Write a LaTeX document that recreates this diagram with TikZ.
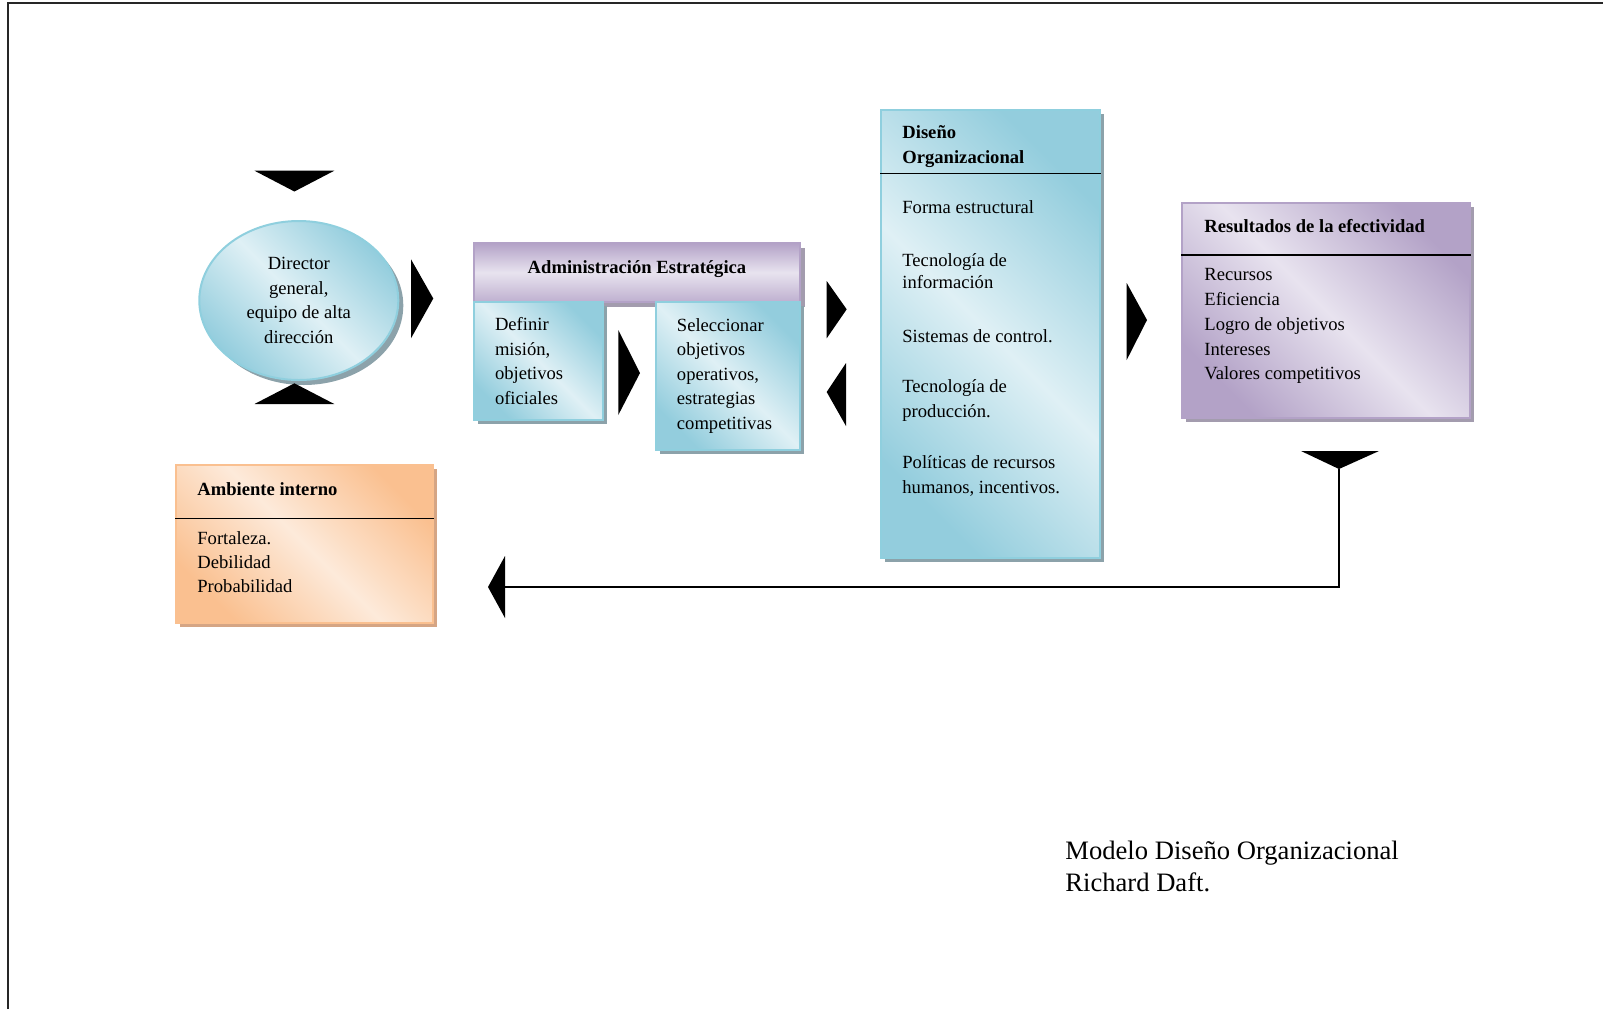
\documentclass[tikz,border=0pt]{standalone}
\usepackage{fontspec}
\setmainfont{Liberation Serif}
\usetikzlibrary{shadows}
\usetikzlibrary{positioning}
\usetikzlibrary{shapes}

\definecolor{bluedark}{HTML}{93CDDD}
\definecolor{bluelight}{HTML}{DFF0F5}
\definecolor{blueline}{HTML}{8FCFDE}
\definecolor{blueshadow}{HTML}{8CA2AA}
\definecolor{purpdark}{HTML}{B3A2C7}
\definecolor{purplight}{HTML}{E8E3EF}
\definecolor{purpshadow}{HTML}{A39CAE}
\definecolor{orangedark}{HTML}{FAC090}
\definecolor{orangelight}{HTML}{FDEADA}
\definecolor{orangeshadow}{HTML}{D5A584}

\tikzstyle{bluebox}=[rectangle, draw=blueline, line width=1pt, left color=bluedark, right color=bluedark, middle color=bluelight, shading angle=-45, drop shadow={shadow xshift=2pt, shadow yshift=-2pt, fill=blueshadow, opacity=1}]
\tikzstyle{purpbox}=[rectangle, draw=purpdark, line width=1pt, left color=purpdark, right color=purpdark, middle color=purplight, shading angle=-45, drop shadow={shadow xshift=2pt, shadow yshift=-2pt, fill=purpshadow, opacity=1}]
\tikzstyle{orangebox}=[rectangle, draw=orangedark, line width=1pt, left color=orangedark, right color=orangedark, middle color=orangelight, shading angle=-45, drop shadow={shadow xshift=2pt, shadow yshift=-2pt, fill=orangeshadow, opacity=1}]
\tikzstyle{boxtxt}=[font=\fontsize{9.3}{12.25}\selectfont, align=left, inner ysep=0pt]
\tikzstyle{itemtxt}=[font=\fontsize{9.3}{12.25}\selectfont, anchor=base west, inner sep=0pt]
\tikzstyle{titletxt}=[font=\fontsize{9.3}{12.25}\selectfont\bfseries, anchor=base west, inner sep=0pt]
\tikzstyle{sepline}=[draw, line width=0.8pt, black]
\tikzstyle{arrowtip}=[fill=black]

\begin{document}
\begin{tikzpicture}[x=0.5pt, y=-0.5pt]
  \useasboundingbox (0,0) rectangle (1603,1009);
  \draw[line width=1.2pt, black!85] (8,1009) -- (8,3) -- (1603,3);

  % director
  \node[ellipse, draw=blueline, line width=1pt, left color=bluedark, right color=bluedark, middle color=bluelight, shading angle=-45, drop shadow={shadow xshift=2.5pt, shadow yshift=-2.5pt, fill=blueshadow, opacity=1}, minimum width=99.5pt, minimum height=79.5pt, inner sep=0pt, align=center, font=\fontsize{9.3}{12.25}\selectfont] (director) at (298.8,300.5) {Director\\general,\\equipo de alta\\dirección};
  \fill[arrowtip] (254.5,170.7) -- (334.3,170.7) -- (294.4,191.5) -- cycle;
  \fill[arrowtip] (254.5,404) -- (334.3,404) -- (294.4,383.3) -- cycle;
  \fill[arrowtip] (411,259.3) -- (433.3,298.5) -- (411,338.3) -- cycle;

  % administracion estrategica
  \node[rectangle, draw=purpdark, line width=1pt, top color=purpdark, bottom color=purpdark!85, middle color=purplight, drop shadow={shadow xshift=2.5pt, shadow yshift=-2.5pt, fill=purpshadow, opacity=1}, minimum width=163pt, minimum height=29.5pt] (admin) at (637,272.5) {};
  \node[titletxt, anchor=base] (admintitle) at (637,273) {Administración Estratégica};
  \node[bluebox, boxtxt, minimum width=64.5pt, minimum height=59pt, text width=43.5pt, inner xsep=10.5pt] (definir) at (538.5,361) {Definir\\misión,\\objetivos\\oficiales};
  \node[bluebox, boxtxt, minimum width=72.25pt, minimum height=74pt, text width=51.25pt, inner xsep=10.5pt] (selecc) at (728.2,376) {Seleccionar\\objetivos\\operativos,\\estrategias\\competitivas};
  \fill[arrowtip] (618.3,330) -- (640,373) -- (618.3,415) -- cycle;
  \fill[arrowtip] (826.7,281) -- (846.7,309.3) -- (826.7,338.3) -- cycle;
  \fill[arrowtip] (846,363) -- (826.7,392) -- (846,426) -- cycle;

  % diseno organizacional
  \node[bluebox, minimum width=109.5pt, minimum height=224pt] (diseno) at (990.5,334) {};
  \draw[sepline] (diseno.west |- 0,173.3) -- (diseno.east |- 0,173.3);
  \node[titletxt] (disenotitle) at (902,138.5) {Diseño};
  \node[titletxt] (disenotitle2) at (902,163.5) {Organizacional};
  \foreach \y/\txt in {213.5/Forma estructural, 266/Tecnología de, 288.5/información, 342.5/Sistemas de control., 392.5/Tecnología de, 417/producción., 468.5/Políticas de recursos, {493.5/humanos, incentivos.}}
    \node[itemtxt] (dis-\y) at (902,\y) {\txt};
  \fill[arrowtip] (1126.7,283) -- (1147,320) -- (1126.7,360) -- cycle;

  % resultados
  \node[purpbox, minimum width=144pt, minimum height=107.5pt] (result) at (1326,310.5) {};
  \draw[sepline] (result.west |- 0,255) -- (result.east |- 0,255);
  \node[titletxt] (resulttitle) at (1204,232) {Resultados de la efectividad};
  \foreach \y/\txt in {280.5/Recursos, 305.5/Eficiencia, 330.5/Logro de objetivos, 355/Intereses, 379/Valores competitivos}
    \node[itemtxt] (res-\y) at (1204,\y) {\txt};
  \fill[arrowtip] (1301,451) -- (1379,451) -- (1339,469) -- cycle;

  % ambiente interno
  \node[orangebox, minimum width=128.5pt, minimum height=79pt] (ambiente) at (304.5,544) {};
  \draw[sepline] (ambiente.west |- 0,518.3) -- (ambiente.east |- 0,518.3);
  \node[titletxt] (ambtitle) at (197,495) {Ambiente interno};
  \foreach \y/\txt in {544/Fortaleza., 568/Debilidad, 592/Probabilidad}
    \node[itemtxt] (amb-\y) at (197,\y) {\txt};

  % retroalimentacion
  \coordinate (fbstart) at (1339,469);
  \coordinate (fbend) at (505,587);
  \draw[line width=1pt] (fbstart) |- (fbend);
  \fill[arrowtip] (505,556) -- (488,587) -- (505,618) -- cycle;

  \node[itemtxt, font=\fontsize{13.3}{15.85}\selectfont] (cap1) at (1065,859) {Modelo Diseño Organizacional};
  \node[itemtxt, font=\fontsize{13.3}{15.85}\selectfont] (cap2) at (1065,891) {Richard Daft.};
\end{tikzpicture}
\end{document}
